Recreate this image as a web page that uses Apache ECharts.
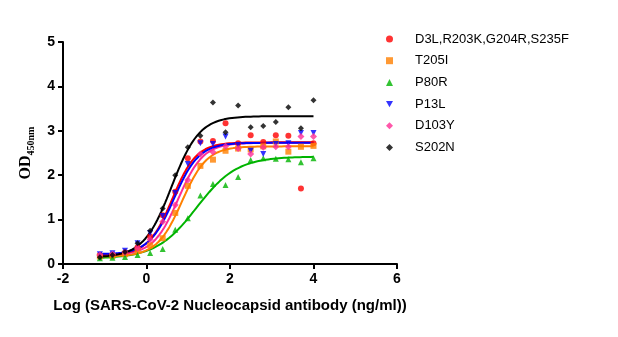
<!DOCTYPE html>
<html>
<head>
<meta charset="utf-8">
<script src="https://cdn.jsdelivr.net/npm/echarts@6/dist/echarts.min.js"></script>
<style>
  html, body { margin: 0; padding: 0; background: #fff; }
  #chart { width: 618px; height: 337px; }
</style>
</head>
<body>
<div id="chart"></div>
<script>
// Log10 antibody concentration (ng/ml), 2-fold serial dilution
const logConc = [-1.117, -0.816, -0.515, -0.214, 0.087, 0.388, 0.689, 0.990, 1.291,
                 1.592, 1.893, 2.194, 2.495, 2.796, 3.097, 3.398, 3.699, 4.0];

const seriesNames = ['D3L,R203K,G204R,S235F', 'T205I', 'P80R', 'P13L', 'D103Y', 'S202N'];

// Measured OD450 values
const odD3L   = [0.20, 0.21, 0.26, 0.38, 0.62, 1.10, 1.63, 2.38, 2.76, 2.77, 3.17, 2.72, 2.90, 2.75, 2.90, 2.89, 1.70, 2.72];
const odT205I = [0.17, 0.18, 0.22, 0.30, 0.42, 0.58, 1.15, 1.76, 2.21, 2.35, 2.55, 2.60, 2.58, 2.65, 2.76, 2.53, 2.64, 2.66];
const odP80R  = [0.13, 0.14, 0.16, 0.20, 0.25, 0.34, 0.77, 1.03, 1.54, 1.80, 1.78, 1.96, 2.34, 2.38, 2.37, 2.36, 2.29, 2.38];
const odP13L  = [0.22, 0.24, 0.30, 0.47, 0.70, 1.08, 1.60, 2.25, 2.72, 2.70, 2.87, 2.68, 2.55, 2.48, 2.70, 2.72, 2.95, 2.95];
const odD103Y = [0.20, 0.22, 0.26, 0.36, 0.55, 0.95, 1.33, 1.89, 2.48, 2.52, 2.65, 2.60, 2.48, 2.63, 2.64, 2.64, 2.87, 2.87];
const odS202N = [0.15, 0.20, 0.27, 0.47, 0.75, 1.25, 2.00, 2.63, 2.89, 3.64, 2.97, 3.57, 3.08, 3.11, 3.20, 3.53, 3.06, 3.69];

// Four-parameter logistic fit results: [bottom, top, logEC50, hill slope]
const fitD3L   = [0.20, 2.74, 0.62, 1.50];
const fitT205I = [0.17, 2.65, 0.85, 1.45];
const fitP80R  = [0.12, 2.42, 1.20, 0.90];
const fitP13L  = [0.22, 2.73, 0.66, 1.45];
const fitD103Y = [0.20, 2.73, 0.76, 1.45];
const fitS202N = [0.15, 3.33, 0.60, 1.30];

const xTicks = [-2, 0, 2, 4, 6];
const yTicks = [0, 1, 2, 3, 4, 5];

const colors  = ['#ff0000', '#ff8000', '#00b400', '#0000ff', '#ff2d95', '#000000'];
const symbols = ['circle', 'rect', 'triangle', 'triangle', 'diamond', 'diamond'];
const rotates = [0, 0, 0, 180, 0, 0];
const sizes   = [6, 6, 6, 6, 7, 6];
// legend icons; the P13L marker is a downward-pointing triangle
const legendIcons = ['circle', 'rect', 'triangle', 'path://M0,0 L10,0 L5,9 Z', 'diamond', 'diamond'];

const measured = [odD3L, odT205I, odP80R, odP13L, odD103Y, odS202N];
const fits = [fitD3L, fitT205I, fitP80R, fitP13L, fitD103Y, fitS202N];

function logistic(p, x) {
  const [b, t, c, h] = p;
  return b + (t - b) / (1 + Math.pow(10, (c - x) * h));
}

function fitCurve(p) {
  const pts = [];
  const x0 = logConc[0], x1 = logConc[logConc.length - 1];
  const n = 160;
  for (let i = 0; i <= n; i++) {
    const x = x0 + (x1 - x0) * i / n;
    pts.push([x, logistic(p, x)]);
  }
  return pts;
}

const series = [];
// fitted curves first (drawn beneath the markers)
const curveOrder = [2, 1, 4, 0, 3, 5];
curveOrder.forEach(i => {
  series.push({
    name: seriesNames[i] + ' fit',
    type: 'line',
    data: fitCurve(fits[i]),
    showSymbol: false,
    symbol: 'none',
    silent: true,
    lineStyle: { color: colors[i], width: 2 },
    z: 2
  });
});
seriesNames.forEach((name, i) => {
  series.push({
    name: name,
    type: 'scatter',
    data: logConc.map((x, k) => [x, measured[i][k]]),
    symbol: symbols[i],
    symbolSize: sizes[i],
    symbolRotate: rotates[i],
    itemStyle: { color: colors[i] },
    z: 3
  });
});

const chart = echarts.init(document.getElementById('chart'));
chart.setOption({
  animation: false,
  backgroundColor: '#fff',
  grid: { left: 63, right: 221, top: 42, bottom: 73, containLabel: false },
  legend: {
    data: seriesNames.map((n, i) => ({ name: n, icon: legendIcons[i], itemStyle: { color: colors[i] } })),
    orient: 'vertical',
    left: 381,
    top: 27,
    itemWidth: 7,
    itemHeight: 7,
    itemGap: 7.7,
    textStyle: { fontFamily: 'Liberation Sans, Arial', fontSize: 13, color: '#000', lineHeight: 14, padding: [0, 0, 0, 17] }
  },
  xAxis: {
    type: 'value',
    min: xTicks[0],
    max: xTicks[xTicks.length - 1],
    interval: 2,
    name: 'Log (SARS-CoV-2 Nucleocapsid antibody (ng/ml))',
    nameLocation: 'middle',
    nameGap: 34,
    nameTextStyle: { fontFamily: 'Liberation Sans, Arial', fontWeight: 'bold', fontSize: 15, color: '#000' },
    axisLine: { onZero: false, lineStyle: { color: '#000', width: 2 } },
    axisTick: { show: true, length: 5, lineStyle: { color: '#000', width: 2 } },
    axisLabel: { margin: 8, fontFamily: 'Liberation Sans, Arial', fontWeight: 'bold', fontSize: 14, color: '#000' },
    splitLine: { show: false }
  },
  yAxis: {
    type: 'value',
    min: yTicks[0],
    max: yTicks[yTicks.length - 1],
    interval: 1,
    name: '{a|OD}{b|450nm}',
    nameLocation: 'middle',
    nameGap: 25,
    nameTextStyle: {
      color: '#000',
      rich: {
        a: { fontFamily: 'Liberation Serif, Times New Roman', fontWeight: 'bold', fontSize: 16, color: '#000', verticalAlign: 'bottom', lineHeight: 16 },
        b: { fontFamily: 'Liberation Serif, Times New Roman', fontWeight: 'bold', fontSize: 10, color: '#000', verticalAlign: 'bottom', lineHeight: 12, padding: [0, 0, -2, 0] }
      }
    },
    axisLine: { onZero: false, lineStyle: { color: '#000', width: 2 } },
    axisTick: { show: true, length: 5, lineStyle: { color: '#000', width: 2 } },
    axisLabel: { margin: 8, fontFamily: 'Liberation Sans, Arial', fontWeight: 'bold', fontSize: 14, color: '#000' },
    splitLine: { show: false }
  },
  series: series
});
</script>
</body>
</html>
